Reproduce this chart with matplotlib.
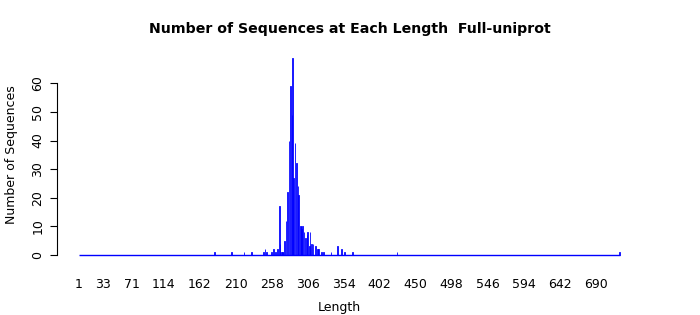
import matplotlib
matplotlib.use("Agg")
import matplotlib.pyplot as plt
import numpy as np

# lengths observed and the number of sequences at each length
lengths = [182, 204, 221, 231, 247, 249, 251, 258, 260, 263, 266, 268, 269,
           271, 272, 273, 275, 277, 279, 281, 283, 285, 286, 287, 289, 291,
           293, 294, 296, 297, 298, 299, 301, 303, 305, 306, 308, 309, 311,
           313, 316, 319, 320, 324, 327, 337, 346, 351, 355, 366, 425, 722]
counts = [1, 1, 1, 1, 1, 2, 1, 1, 2, 1, 2, 17, 4,
          1, 1, 1, 5, 12, 22, 40, 59, 49, 69, 27, 39, 32,
          24, 21, 10, 10, 9, 10, 8, 6, 7, 8, 3, 8, 4,
          4, 3, 2, 2, 1, 1, 1, 3, 2, 1, 1, 1, 1]

tick_labels = [1, 33, 71, 114, 162, 210, 258, 306, 354, 402, 450, 498, 546,
               594, 642, 690]
y_ticks = [0, 10, 20, 30, 40, 50, 60]

fig = plt.figure(figsize=(7, 3.15), dpi=100)
ax = fig.add_axes([57 / 700, (315 - 260) / 315, 565 / 700, 210 / 315])

ax.bar(lengths, counts, width=0.9, facecolor=(0, 0, 1, 0.65),
       edgecolor="blue", linewidth=0.6, align="center")
ax.hlines(0, 1, max(lengths), color="blue", linewidth=1.0)

ax.set_xlim(-28.3, 725)
ax.set_ylim(-1.75, 71.65)

for s in ["top", "right", "bottom"]:
    ax.spines[s].set_visible(False)
ax.spines["left"].set_bounds(0, 60)
ax.spines["left"].set_linewidth(0.8)

ax.set_yticks(y_ticks)
ax.set_yticklabels([str(v) for v in y_ticks], rotation=90, va="center",
                   fontsize=9)
ax.tick_params(axis="y", length=5, width=0.8, pad=4)

ax.set_xticks(tick_labels)
ax.set_xticklabels([str(v) for v in tick_labels], fontsize=9)
ax.tick_params(axis="x", length=0, pad=13)

ax.set_xlabel("Length", fontsize=9, labelpad=7)
ax.set_ylabel("Number of Sequences", fontsize=9, labelpad=10)

fig.text(350 / 700, 1 - 29 / 315,
         "Number of Sequences at Each Length  Full-uniprot",
         ha="center", va="center", fontsize=10.2, fontweight="bold")

fig.savefig("out.png", dpi=100)
